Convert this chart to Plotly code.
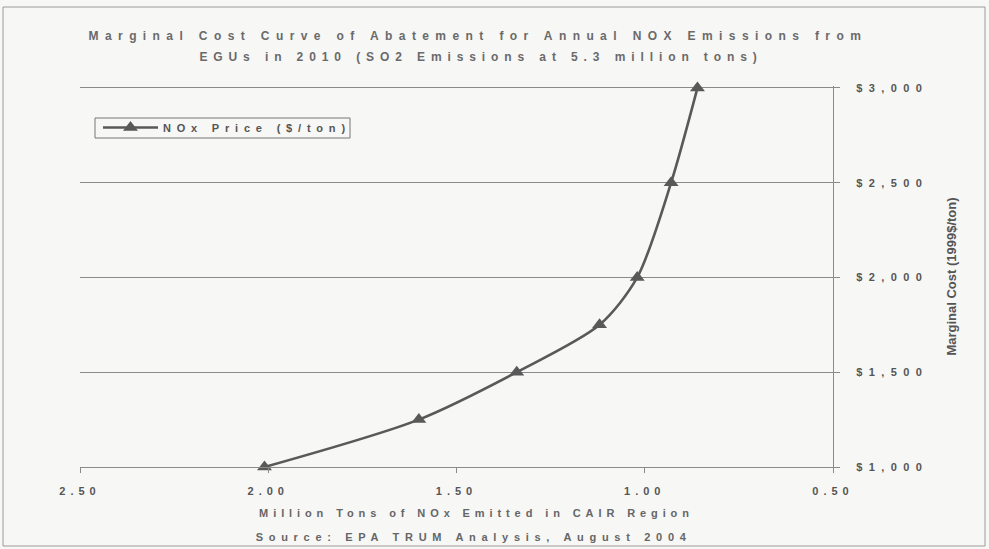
import plotly.graph_objects as go

# NOx emitted (million tons) vs. marginal cost ($/ton)
nox_tons = [2.01, 1.60, 1.34, 1.12, 1.02, 0.93, 0.86]
nox_price = [1000, 1250, 1500, 1750, 2000, 2500, 3000]

x_ticks = [2.5, 2.0, 1.5, 1.0, 0.5]
y_ticks = [1000, 1500, 2000, 2500, 3000]

title_lines = ["Marginal Cost Curve of Abatement for Annual NOX Emissions from",
               "EGUs in 2010 (SO2 Emissions at 5.3 million tons)"]
x_title_lines = ["Million Tons of NOx Emitted in CAIR Region",
                 "Source: EPA TRUM Analysis, August 2004"]
y_title = "Marginal Cost (1999$/ton)"
series_name = "NOx Price ($/ton)"

W, H = 989, 549
L, R, T, B = 80, 156, 86, 82
PW, PH = W - L - R, H - T - B


def px_x(px):
    return (px - L) / PW


def px_y(py):
    return (H - B - py) / PH


FONT = "Liberation Sans, Arial, sans-serif"
TEXT = "#5f5f5f"
GRID = "#8a8a8a"
LINE = "#595959"
BG = "#f7f7f6"

fig = go.Figure()
fig.add_trace(go.Scatter(
    x=nox_tons, y=nox_price, name=series_name,
    mode="lines+markers",
    line=dict(color=LINE, width=2.6, shape="spline", smoothing=0.8),
    marker=dict(symbol="triangle-up", size=13, color=LINE),
    cliponaxis=False,
    showlegend=True,
))

fig.update_layout(
    width=W, height=H,
    margin=dict(l=L, r=R, t=T, b=B),
    paper_bgcolor=BG, plot_bgcolor=BG,
    font=dict(family=FONT, color=TEXT, size=11),
    xaxis=dict(range=[2.5, 0.5], tickvals=x_ticks, tickformat=".2f",
               showgrid=False, zeroline=False,
               showline=True, linecolor=GRID, linewidth=1,
               ticks="outside", ticklen=5, tickcolor=GRID, ticklabelstandoff=9,
               tickfont=dict(size=11, weight="bold", color="#555")),
    # a little headroom above $3,000 keeps its gridline drawn
    yaxis=dict(range=[1000, 3010], tickvals=y_ticks, tickformat="$,.0f",
               side="right", showgrid=True, gridcolor=GRID, gridwidth=1, zeroline=False,
               showline=True, linecolor=GRID, linewidth=1,
               ticks="outside", ticklen=6, tickcolor=GRID, ticklabelstandoff=14,
               tickfont=dict(size=11, weight="bold", color="#555"),
               title=dict(text=y_title, standoff=58,
                          font=dict(size=13, weight="bold", color="#555"))),
    legend=dict(x=px_x(98), y=px_y(113), xanchor="left", yanchor="top",
                orientation="h", entrywidth=200, entrywidthmode="pixels",
                itemwidth=55, bgcolor="rgba(0,0,0,0)", borderwidth=0,
                font=dict(size=11, weight="bold", color="#555")),
)

# chart title and axis caption, one annotation per line
text_rows = [
    (title_lines[0], 478, 36, 12, "#6a6a6a"),
    (title_lines[1], 481, 57, 12, "#6a6a6a"),
    (x_title_lines[0], 476, 513, 11, "#666"),
    (x_title_lines[1], 474, 537, 11, "#666"),
]
for txt, cx, cy, size, color in text_rows:
    fig.add_annotation(text=txt, xref="paper", yref="paper",
                       x=px_x(cx), y=px_y(cy), xanchor="center", yanchor="middle",
                       showarrow=False,
                       font=dict(size=size, weight="bold", color=color))

# legend frame
fig.add_shape(type="rect", xref="paper", yref="paper",
              x0=px_x(95), x1=px_x(350), y0=px_y(138), y1=px_y(118),
              line=dict(color="#777", width=1), fillcolor=BG, layer="below")

# outer chart frame
fig.add_shape(type="rect", xref="paper", yref="paper",
              x0=px_x(3), x1=px_x(985), y0=px_y(546), y1=px_y(7),
              line=dict(color="#9a9a9a", width=1), layer="below")

# widen character spacing of the chart texts
post = """
var gd = document.getElementById('{plot_id}');
function sp(sel, v) { gd.querySelectorAll(sel).forEach(function (e) { e.style.letterSpacing = v; }); }
sp('.annotation[data-index="0"] text', '6.4px');
sp('.annotation[data-index="1"] text', '5.9px');
sp('.annotation[data-index="2"] text', '4.9px');
sp('.annotation[data-index="3"] text', '5.7px');
sp('.xtick text', '5px');
sp('.ytick text', '6.4px');
sp('.legendtext', '5.8px');
"""

fig.write_html("out.html", post_script=post, config={"responsive": False})
